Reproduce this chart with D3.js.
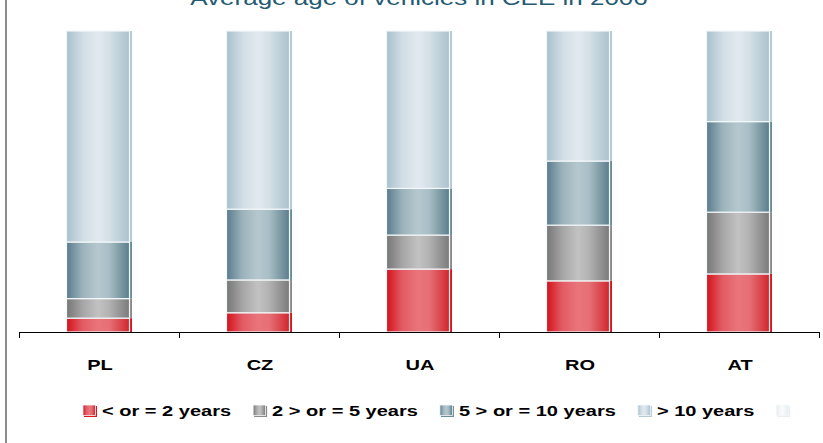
<!DOCTYPE html>
<html>
<head>
<meta charset="utf-8">
<script src="https://cdn.jsdelivr.net/npm/d3@7"></script>
<style>
  html, body { margin: 0; padding: 0; background: #ffffff; }
  svg { display: block; }
  text { font-family: "Liberation Sans", Arial, Helvetica, sans-serif; }
</style>
</head>
<body>
<svg id="chart" width="823" height="443"></svg>
<script>
// Share of vehicles by age bracket, per country (percent of fleet)
const countries = ["PL", "CZ", "UA", "RO", "AT"];
const seriesNames = ["< or = 2 years", "2 > or = 5 years", "5 > or = 10 years", "> 10 years", ""];
const upTo2 = [4.6, 6.4, 20.9, 17.0, 19.3];
const from2to5 = [6.5, 10.9, 11.3, 18.5, 20.5];
const from5to10 = [18.8, 23.5, 15.5, 21.3, 30.1];
const over10 = [70.1, 59.2, 52.3, 43.2, 30.1];
const unnamed = [0, 0, 0, 0, 0];
const seriesValues = [upTo2, from2to5, from5to10, over10, unnamed];
const titleText = "Average age of vehicles in CEE in 2006";

// Gradient palette per series: [edge, middle, edge-right, side strip]
const palettes = [
  { stops: ["#d3121a", "#e25b64", "#e9757b", "#e66f76", "#d1262c"], side: "#d8161c" },
  { stops: ["#767676", "#a5a5a5", "#c2c2c2", "#b2b2b2", "#7a7a7a"], side: "#8a8a8a" },
  { stops: ["#587c8b", "#9cb2bb", "#b5c8cf", "#a8bdc5", "#5a7d8b"], side: "#6a8c99" },
  { stops: ["#a7c1cc", "#d0dde4", "#e1eaf0", "#d4e0e6", "#a9c2cd"], side: "#b3cad4" },
  { stops: ["#e6ecef", "#f3f6f8", "#fafbfc", "#f3f6f8", "#e6ecef"], side: "#e9eef1" }
];

const svg = d3.select("#chart");
const W = 823, H = 443;
const xScaleFactor = 1.3;

// Frame edge on the left
svg.append("line")
  .attr("x1", 6).attr("x2", 6).attr("y1", 0).attr("y2", H)
  .attr("stroke", "#8c8c8c").attr("stroke-width", 2);

const defs = svg.append("defs");
palettes.forEach((p, i) => {
  const g = defs.append("linearGradient")
    .attr("id", "grad" + i)
    .attr("x1", "0%").attr("x2", "100%").attr("y1", "0%").attr("y2", "0%");
  const offs = [0, 0.25, 0.5, 0.68, 1];
  p.stops.forEach((c, k) => g.append("stop").attr("offset", offs[k]).attr("stop-color", c));
});

const margin = { left: 19, right: 4, top: 31, bottom: 111 };
const plotBottom = 332;

const x = d3.scaleBand().domain(countries).range([19, 819]).paddingInner(0).paddingOuter(0);
const y = d3.scaleLinear().domain([0, 1]).range([plotBottom, 31]);

// Build stacked table
const table = countries.map((c, i) => {
  const row = { country: c };
  seriesNames.forEach((s, j) => { row["s" + j] = seriesValues[j][i]; });
  return row;
});
const keys = seriesNames.map((s, j) => "s" + j);
const stacked = d3.stack().keys(keys).offset(d3.stackOffsetExpand)(table);

const barW = 63;
const bars = svg.append("g");
stacked.forEach((layer, j) => {
  const g = bars.append("g");
  layer.forEach((d) => {
    const h = y(d[0]) - y(d[1]);
    if (!(h > 0)) return;
    const bx = x(d.data.country) + x.bandwidth() / 2 - barW / 2 - 1;
    // side strip for the raised look
    g.append("rect")
      .attr("x", bx + 1).attr("y", y(d[1]))
      .attr("width", barW + 1.5).attr("height", h)
      .attr("fill", palettes[j].side);
    g.append("rect")
      .attr("x", bx).attr("y", y(d[1]))
      .attr("width", barW).attr("height", h)
      .attr("fill", "url(#grad" + j + ")")
      .attr("stroke", "#f4f7f9")
      .attr("stroke-width", 1.2);
  });
});

// Category axis with ticks between bands
const axis = svg.append("g");
axis.append("line")
  .attr("x1", 19).attr("x2", 819).attr("y1", plotBottom + 0.5).attr("y2", plotBottom + 0.5)
  .attr("stroke", "#000").attr("stroke-width", 1);
const tickPos = countries.map(c => x(c)).concat([x(countries[countries.length - 1]) + x.bandwidth()]);
tickPos.forEach(t => {
  axis.append("line")
    .attr("x1", t + 0.5).attr("x2", t + 0.5).attr("y1", plotBottom).attr("y2", plotBottom + 6)
    .attr("stroke", "#000").attr("stroke-width", 1);
});
countries.forEach(c => {
  axis.append("text")
    .attr("transform", `translate(${x(c) + x.bandwidth() / 2 + 1},370) scale(${xScaleFactor},1)`)
    .attr("text-anchor", "middle")
    .attr("font-size", 15.4)
    .attr("font-weight", "bold")
    .attr("fill", "#000")
    .text(c);
});

// Title (top edge of the frame clips most of it)
svg.append("text")
  .attr("transform", `translate(419,4.5) scale(${xScaleFactor},1)`)
  .attr("text-anchor", "middle")
  .attr("font-size", 20)
  .attr("fill", "#245a73")
  .text(titleText);

// Legend
const legend = svg.append("g");
let lx = 83;
seriesNames.forEach((name, j) => {
  const it = legend.append("g");
  it.append("rect")
    .attr("x", lx + 1).attr("y", 406)
    .attr("width", 13).attr("height", 11)
    .attr("fill", palettes[j].side);
  it.append("rect")
    .attr("x", lx).attr("y", 405)
    .attr("width", 12.5).attr("height", 10.5)
    .attr("fill", "url(#grad" + j + ")")
    .attr("stroke", "#f4f7f9").attr("stroke-width", 0.8);
  let tw = 0;
  if (name) {
    const t = it.append("text")
      .attr("transform", `translate(${lx + 19},416) scale(${xScaleFactor},1)`)
      .attr("font-size", 15.4)
      .attr("font-weight", "bold")
      .attr("fill", "#000")
      .text(name);
    tw = t.node().getComputedTextLength() * xScaleFactor;
  }
  lx += 19 + tw + 22;
});
</script>
</body>
</html>
